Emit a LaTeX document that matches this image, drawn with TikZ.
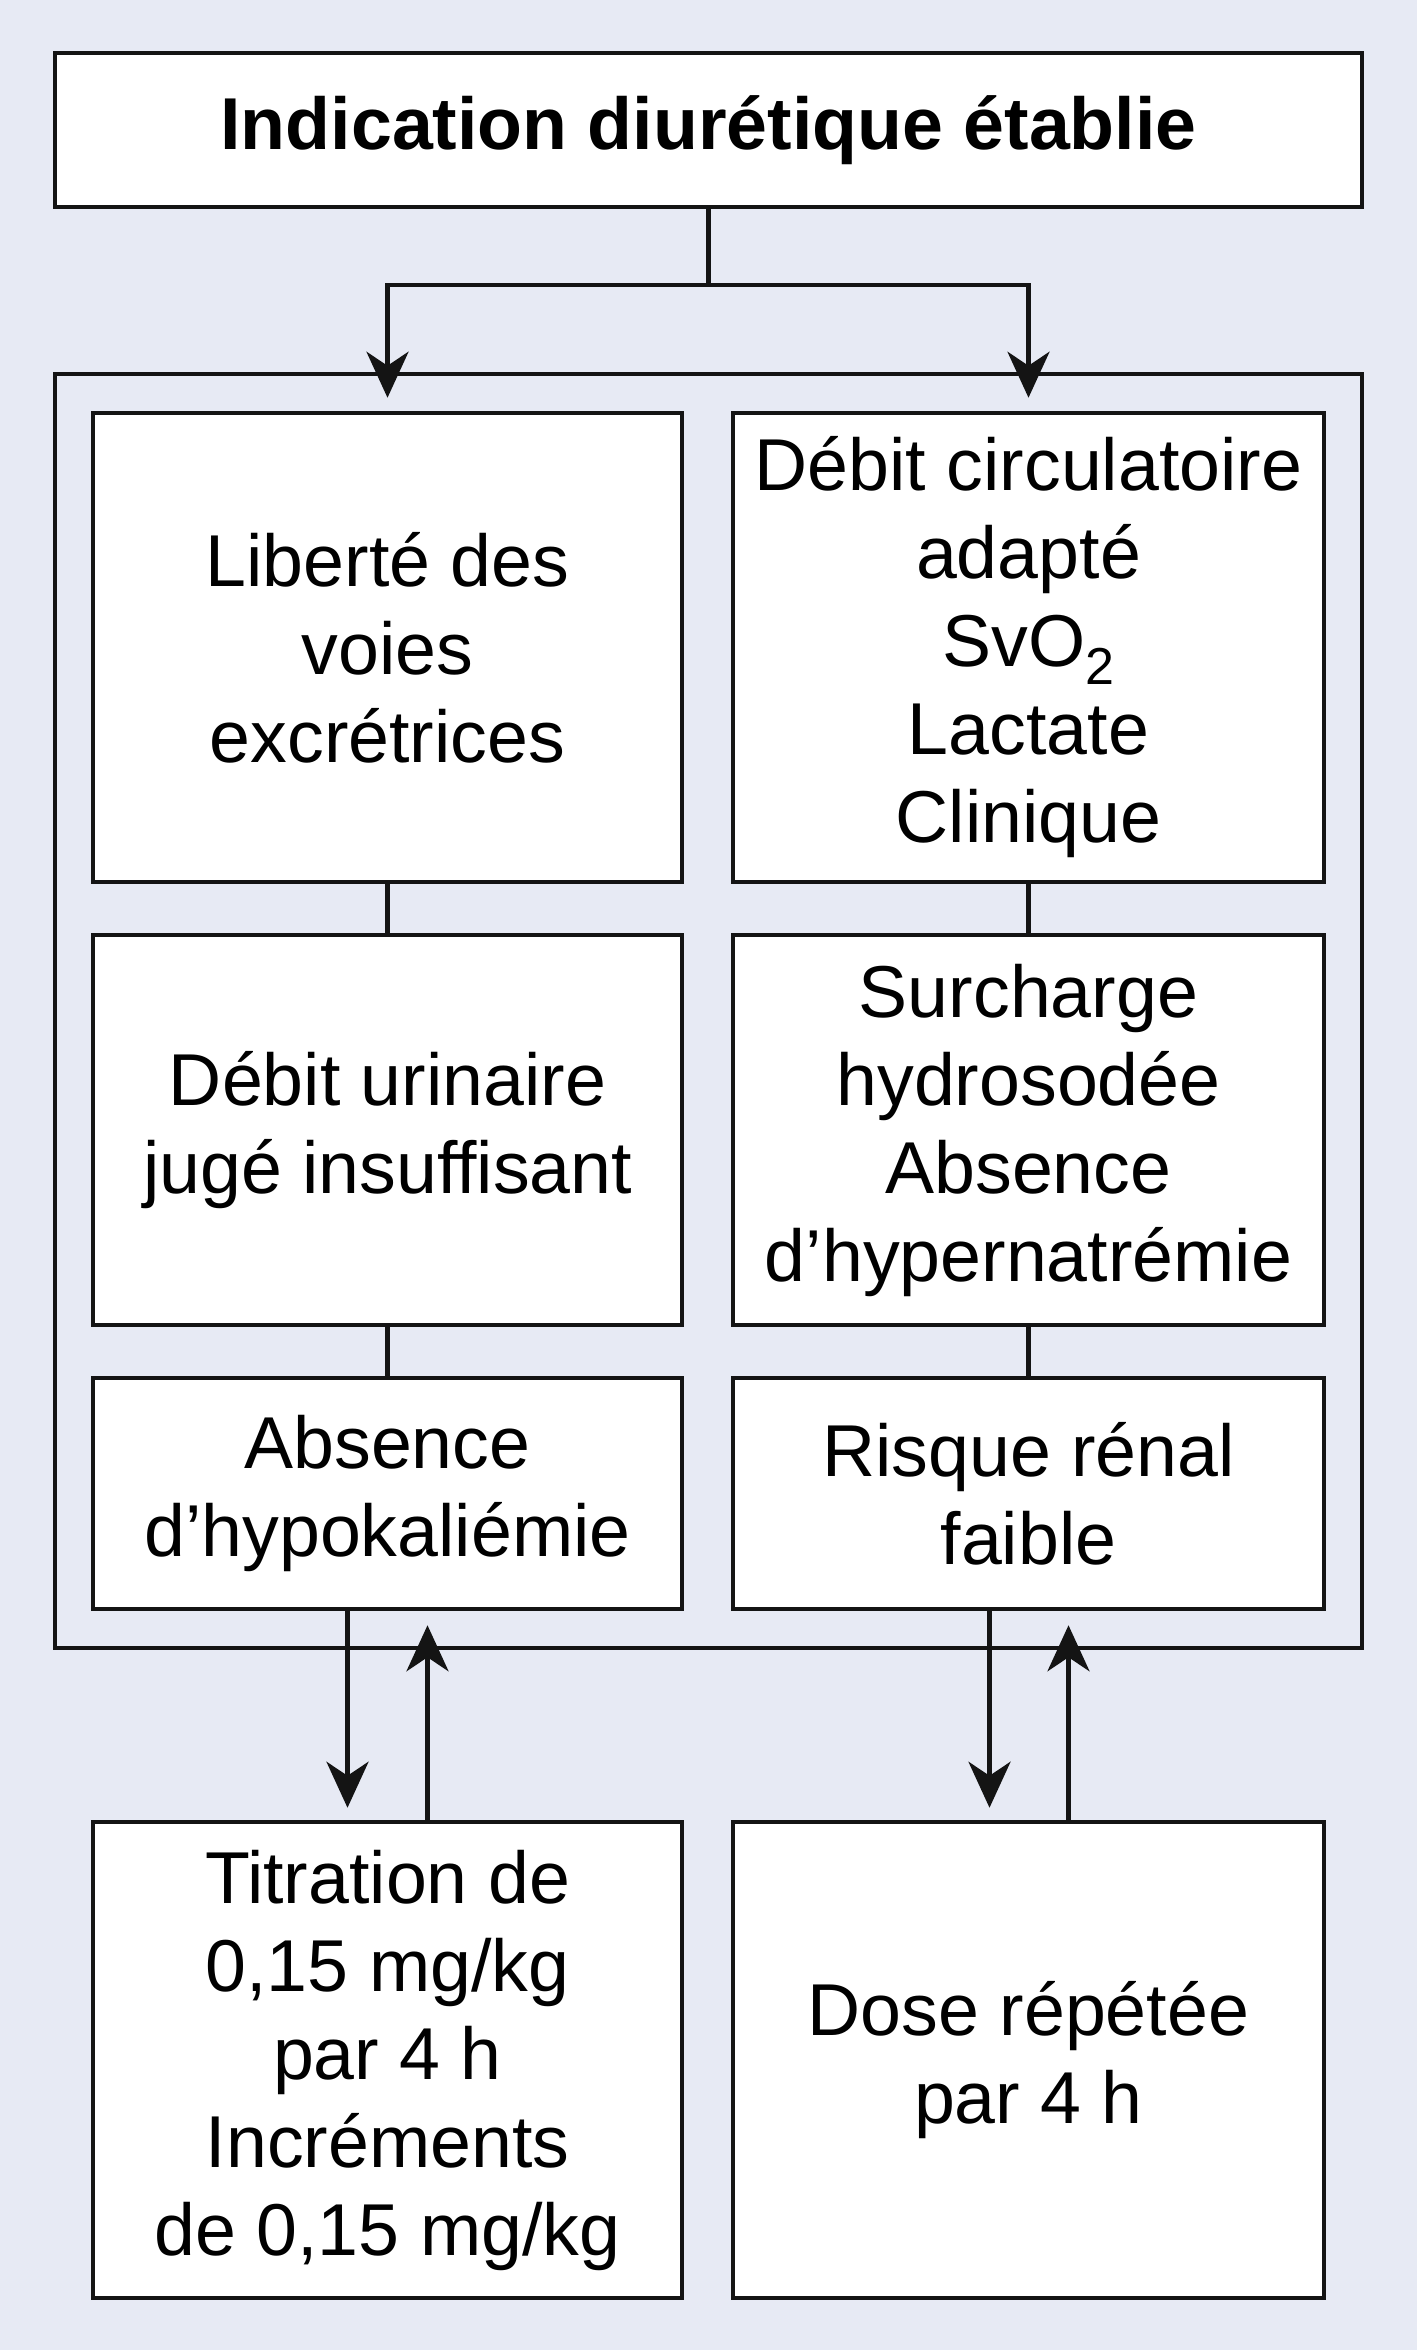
\documentclass[tikz,border=0pt]{standalone}
\usepackage{fontspec}
\setmainfont{Liberation Sans}
\usetikzlibrary{arrows.meta}
\definecolor{bg}{RGB}{231,234,244}
\definecolor{ink}{RGB}{20,20,20}
\begin{document}
\begin{tikzpicture}[x=1pt,y=-1pt,
  box/.style={draw=ink, line width=4.5pt, fill=white, inner sep=0pt, align=center,
    font=\fontsize{73.5}{88}\selectfont},
  link/.style={draw=ink, line width=4.5pt},
  arr/.style={link, -{Stealth[length=46pt,width=42pt,inset=14pt]}},
]
\fill[bg] (0,0) rectangle (1417,2350);
\useasboundingbox (0,0) rectangle (1417,2350);

% outer frame
\node[box, fill=none, minimum width=1307pt, minimum height=1274pt] (outer) at (708.5,1011) {};

% top box
\node[box, minimum width=1307pt, minimum height=154pt,
  font=\fontsize{73.5}{88}\selectfont\bfseries] (top) at (708.5,130) {Indication diurétique établie};

% left column
\node[box, minimum width=589pt, minimum height=469pt] (L1) at (387.5,647.5)
  {Liberté des\\voies\\excrétrices};
\node[box, minimum width=589pt, minimum height=390pt] (L2) at (387.5,1130)
  {Débit urinaire\\jugé insuffisant};
\node[box, minimum width=589pt, minimum height=231pt] (L3) at (387.5,1493.5)
  {Absence\\d’hypokaliémie};
\node[box, minimum width=589pt, minimum height=476pt] (B1) at (387.5,2060)
  {Titration de\\0,15 mg/kg\\par 4 h\\Incréments\\de 0,15 mg/kg};

% right column
\node[box, minimum width=591pt, minimum height=469pt] (R1) at (1028.5,647.5)
  {Débit circulatoire\\adapté\\SvO\raisebox{-18pt}{\fontsize{52}{52}\selectfont 2}\\Lactate\\Clinique};
\node[box, minimum width=591pt, minimum height=390pt] (R2) at (1028.5,1130)
  {Surcharge\\hydrosodée\\Absence\\d’hypernatrémie};
\node[box, minimum width=591pt, minimum height=231pt] (R3) at (1028.5,1493.5)
  {Risque rénal\\faible};
\node[box, minimum width=591pt, minimum height=476pt] (B2) at (1028.5,2060)
  {Dose répétée\\par 4 h};

% top connectors
\coordinate (j) at (708.5,285);
\draw[link] (top.south) -- (j);
\draw[arr, shorten >=13pt] (j) -| (L1.north);
\draw[arr, shorten >=13pt] (j) -| (R1.north);

% column links
\draw[link] (L1.south) -- (L2.north);
\draw[link] (L2.south) -- (L3.north);
\draw[link] (R1.south) -- (R2.north);
\draw[link] (R2.south) -- (R3.north);

% bottom arrows
\draw[arr, shorten >=12pt] ([xshift=-40pt]L3.south) -- ([xshift=-40pt]B1.north);
\draw[arr, shorten >=14pt] ([xshift=40pt]B1.north) -- ([xshift=40pt]L3.south);
\draw[arr, shorten >=12pt] ([xshift=-39pt]R3.south) -- ([xshift=-39pt]B2.north);
\draw[arr, shorten >=14pt] ([xshift=40pt]B2.north) -- ([xshift=40pt]R3.south);
\end{tikzpicture}
\end{document}
